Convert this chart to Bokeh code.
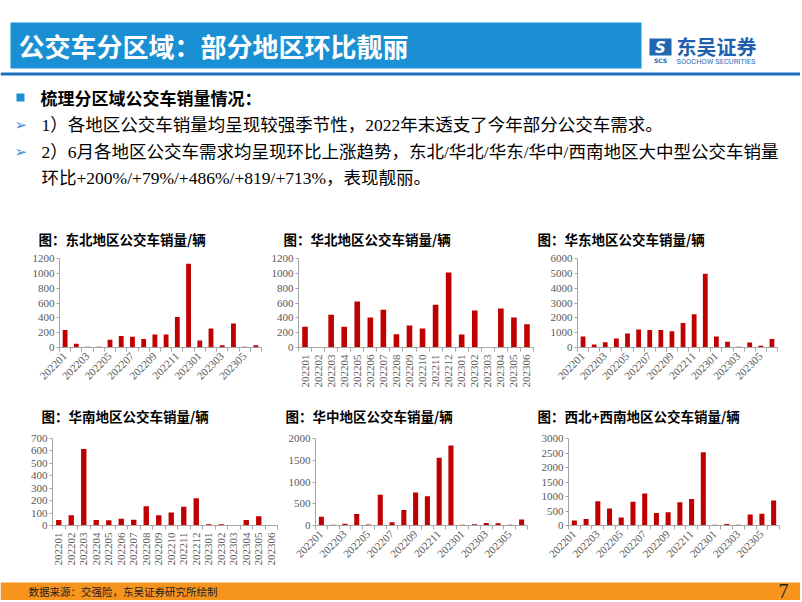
import math
from bokeh.plotting import figure
from bokeh.layouts import column, row
from bokeh.models import Range1d, FixedTicker
from bokeh.core.properties import value
from bokeh.embed import file_html
from bokeh.resources import INLINE

# ---------------- data ----------------
months = ["202201", "202202", "202203", "202204", "202205", "202206", "202207", "202208", "202209",
          "202210", "202211", "202212", "202301", "202302", "202303", "202304", "202305", "202306"]
northeast = [235, 50, 10, 10, 105, 155, 145, 115, 175, 175, 410, 1130, 95, 255, 30, 325, 10, 30]
north = [280, 5, 440, 280, 620, 405, 510, 180, 295, 255, 575, 1010, 175, 500, 3, 525, 405, 315]
east = [750, 200, 360, 600, 940, 1220, 1180, 1180, 1100, 1650, 2250, 4970, 750, 380, 50, 330, 110, 570]
south = [45, 83, 615, 45, 42, 55, 47, 155, 83, 105, 150, 220, 10, 10, 3, 45, 75, 3]
central = [200, 20, 40, 265, 25, 705, 75, 355, 760, 670, 1560, 1840, 20, 30, 60, 50, 15, 140]
westsouth = [170, 225, 840, 590, 280, 815, 1100, 435, 460, 800, 915, 2530, 30, 50, 30, 380, 405, 865]

chart_titles = ["图：东北地区公交车销量/辆", "图：华北地区公交车销量/辆", "图：华东地区公交车销量/辆",
                "图：华南地区公交车销量/辆", "图：华中地区公交车销量/辆", "图：西北+西南地区公交车销量/辆"]
y_max = [1200, 1200, 6000, 700, 2000, 3000]
y_step = [200, 200, 1000, 100, 500, 500]

page_title = "公交车分区域：部分地区环比靓丽"
heading = "梳理分区域公交车销量情况："
bullet1 = "1）各地区公交车销量均呈现较强季节性，2022年末透支了今年部分公交车需求。"
bullet2a = "2）6月各地区公交车需求均呈现环比上涨趋势，东北/华北/华东/华中/西南地区大中型公交车销量"
bullet2b = "环比+200%/+79%/+486%/+819/+713%，表现靓丽。"
source = "数据来源：交强险，东吴证券研究所绘制"
page_no = "7"

CJK = "Noto Sans CJK SC"
MIX = "Liberation Serif, Noto Sans CJK SC"
SERIF = "Liberation Serif"
BAR = "#C00000"
AXIS = "#A6A6A6"
LBL = "#595959"
W = 800


def blank(w, h, y0, y1):
    p = figure(width=w, height=h, output_backend="svg", toolbar_location=None,
               x_range=Range1d(0, w), y_range=Range1d(y1, y0),
               x_axis_type=None, y_axis_type=None,
               min_border=0, min_border_left=0, min_border_right=0,
               min_border_top=0, min_border_bottom=0)
    p.grid.visible = False
    p.outline_line_color = None
    return p


def txt(p, x, y, s, size, color="black", font=CJK, bold=False, align="left", italic=False):
    style = "bold" if bold else "normal"
    if italic:
        style = "bold italic" if bold else "italic"
    p.text(x=[x], y=[y], text=[s], text_font=value(font), text_font_size=size,
           text_font_style=style, text_color=color, text_baseline="middle", text_align=align)


# ---------------- header (incl. first-row chart titles) ----------------
hdr = blank(W, 250, 0, 250)
hdr.quad(left=10, right=641, top=22, bottom=68, color="#1A8FD3", line_color=None)
hdr.quad(left=0, right=W, top=72, bottom=75, color="#1B6FC0", line_color=None)
txt(hdr, 18, 45, page_title, "26px", color="white", bold=True)
# logo
hdr.quad(left=649, right=671, top=38, bottom=55, color="#2166B0", line_color=None)
txt(hdr, 660, 47, "S", "15px", color="white", font="DejaVu Sans", bold=True, align="center", italic=True)
txt(hdr, 660, 60, "SCS", "6px", color="#2166B0", font="DejaVu Sans", bold=True, align="center")
txt(hdr, 676, 46, "东吴证券", "20px", color="#1F5FAF", bold=True)
txt(hdr, 676, 61, "SOOCHOW SECURITIES", "7.5px", color="#2A6EBB", font="Roboto")
# body
hdr.quad(left=16, right=24, top=93, bottom=101, color="#1A8FD3", line_color=None)
txt(hdr, 40, 97, heading, "17px", bold=True)
txt(hdr, 14, 124, "➢", "15px", color="#3C8DD6", font="DejaVu Sans")
txt(hdr, 41, 124, bullet1, "17.5px", font=MIX)
txt(hdr, 14, 151, "➢", "15px", color="#3C8DD6", font="DejaVu Sans")
txt(hdr, 41, 151, bullet2a, "17.5px", font=MIX)
txt(hdr, 41, 177, bullet2b, "17.5px", font=MIX)
# chart titles, first row
for tx, tt in zip([38, 283, 537], chart_titles[:3]):
    txt(hdr, tx, 238, tt, "13.5px", bold=True)

# strip with second-row chart titles
strip = blank(W, 28, 400, 428)
for tx, tt in zip([41, 285, 537], chart_titles[3:]):
    txt(strip, tx, 415, tt, "13.5px", bold=True)


# ---------------- charts ----------------
def chart(i, vals, w, h, bl, br, bt, bb, every, orient):
    p = figure(width=w, height=h, output_backend="svg", toolbar_location=None,
               x_range=Range1d(0.5, len(months) + 0.5), y_range=Range1d(0, y_max[i]),
               min_border_left=bl, min_border_right=br, min_border_top=bt, min_border_bottom=bb)
    xs = list(range(1, len(months) + 1))
    p.vbar(x=xs, top=vals, width=0.43, color=BAR, line_color=None)
    p.grid.visible = False
    p.outline_line_color = None

    ax = p.xaxis[0]
    ax.ticker = FixedTicker(ticks=xs[::every], minor_ticks=[k + 0.5 for k in range(len(months) + 1)])
    ax.major_label_overrides = {k: m for k, m in zip(xs, months)}
    ax.major_label_orientation = orient
    ax.major_label_text_font = SERIF
    ax.major_label_text_font_size = "11px"
    ax.major_label_text_color = LBL
    ax.major_label_standoff = 3
    ax.major_tick_line_color = None
    ax.major_tick_out = 0
    ax.major_tick_in = 0
    ax.minor_tick_line_color = AXIS
    ax.minor_tick_out = 4
    ax.minor_tick_in = 0
    ax.axis_line_color = AXIS

    ay = p.yaxis[0]
    ay.ticker = FixedTicker(ticks=list(range(0, y_max[i] + 1, y_step[i])))
    ay.major_label_text_font = SERIF
    ay.major_label_text_font_size = "11px"
    ay.major_label_text_color = LBL
    ay.major_label_standoff = 2
    ay.major_tick_line_color = AXIS
    ay.major_tick_out = 3
    ay.major_tick_in = 0
    ay.minor_tick_line_color = None
    ay.axis_line_color = AXIS
    return p


diag = math.pi / 4
vert = math.pi / 2
# row 1: y 250..400 ; row 2: y 428..572
c1 = chart(0, northeast, 268, 150, 59, 7, 8, 51, 2, diag)
c2 = chart(1, north, 267, 150, 29, 2, 7, 53, 1, vert)
c3 = chart(2, east, 265, 150, 42, 23, 8, 51, 2, diag)
c4 = chart(3, south, 280, 144, 52, 3, 10, 44, 1, vert)
c5 = chart(4, central, 257, 144, 35, 10, 6, 47, 2, diag)
c6 = chart(5, westsouth, 263, 144, 31, 21, 9, 43, 2, diag)

# ---------------- footer ----------------
ftr = blank(W, 28, 572, 600)
ftr.quad(left=0, right=W, top=582, bottom=600, color="#F7941D", line_color=None)
txt(ftr, 28, 591, source, "10.5px", color="#222222")
txt(ftr, 788, 590, page_no, "20px", color="#222222", font=SERIF, align="right")

layout = column(hdr, row(c1, c2, c3, spacing=0), strip, row(c4, c5, c6, spacing=0), ftr, spacing=0)

with open("out.html", "w") as f:
    f.write(file_html(layout, INLINE))
